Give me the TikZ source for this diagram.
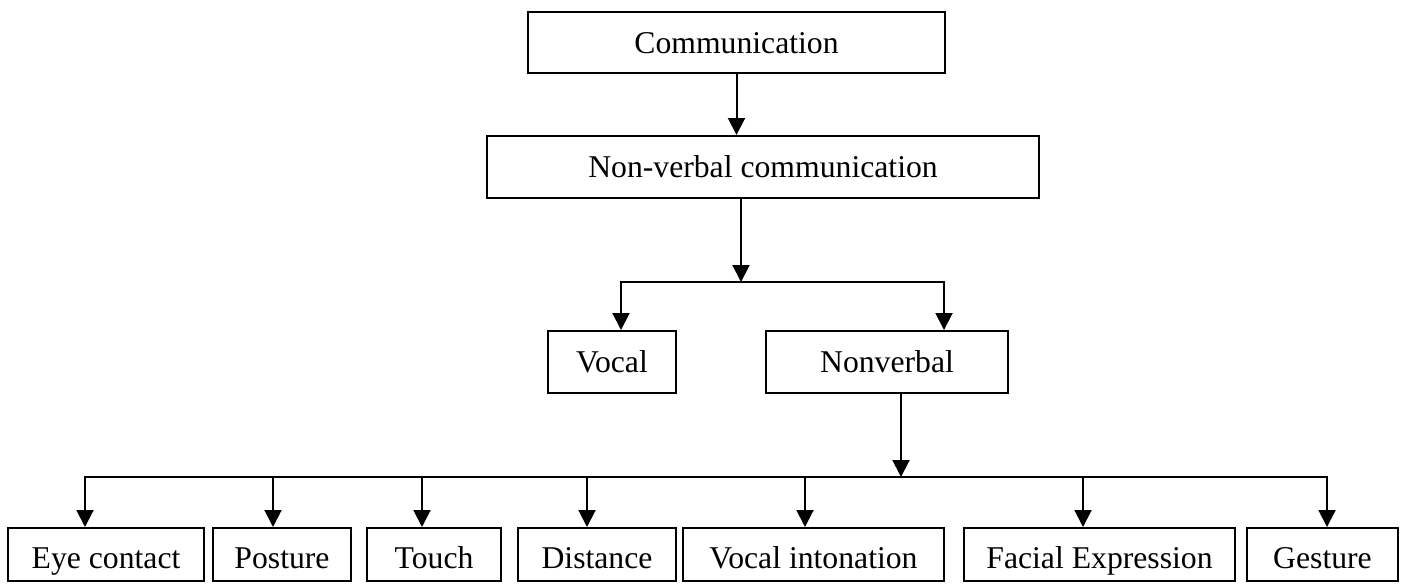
\documentclass[tikz,border=0pt]{standalone}
\usepackage{fontspec}
\setmainfont{Liberation Serif}
\usetikzlibrary{arrows.meta}

\begin{document}
\begin{tikzpicture}[x=1pt,y=-1pt,
  box/.style={draw,line width=2pt,minimum height=62pt,inner sep=0pt,
    text height=21pt,text depth=0pt,font=\fontsize{31.7}{38}\selectfont},
  leaf/.style={box,minimum height=53pt,text height=27pt},
  arr/.style={line width=2pt,-{Triangle[width=17pt,length=17pt]}},
  link/.style={line width=2pt,line cap=rect}]
  \useasboundingbox (0,0) rectangle (1405,584);
  % Upper levels
  \node[box,minimum width=417pt,minimum height=61pt] (comm) at (736.5,42.5) {Communication};
  \node[box,minimum width=552pt] (nvc) at (763,167) {Non-verbal communication};
  \node[box,minimum width=128pt] (vocal) at (612,362) {Vocal};
  \node[box,minimum width=242pt] (nonverbal) at (887,362) {Nonverbal};
  \draw[arr] (comm.south) -- (comm.south |- nvc.north);
  % Split into vocal / nonverbal
  \coordinate (split) at (741,282);
  \coordinate (toVocal) at (621,282);
  \coordinate (toNonverbal) at (944,282);
  \draw[arr] (nvc.south -| split) -- (split);
  \draw[link] (toVocal) -- (toNonverbal);
  \draw[arr] (toVocal) -- (toVocal |- vocal.north);
  \draw[arr] (toNonverbal) -- (toNonverbal |- nonverbal.north);
  % Nonverbal channels
  \coordinate (fan) at (901,477);
  \draw[arr] (nonverbal.south -| fan) -- (fan);
  \foreach \name/\cx/\w/\ax/\txt in {eye/106/196/85/Eye contact,
      posture/282/138/273/Posture, touch/434/134/422/Touch,
      distance/597/158/587/Distance, intonation/813.5/261/805/Vocal intonation,
      facial/1099.5/271/1083/Facial Expression, gesture/1322.5/151/1327/Gesture}{
    \node[leaf,minimum width=\w pt] (\name) at (\cx,554.5) {\txt};
    \coordinate (\name-in) at (\ax,477);
    \draw[arr] (\name-in) -- (\name-in |- \name.north);}
  \draw[link] (eye-in) -- (gesture-in);
\end{tikzpicture}
\end{document}
